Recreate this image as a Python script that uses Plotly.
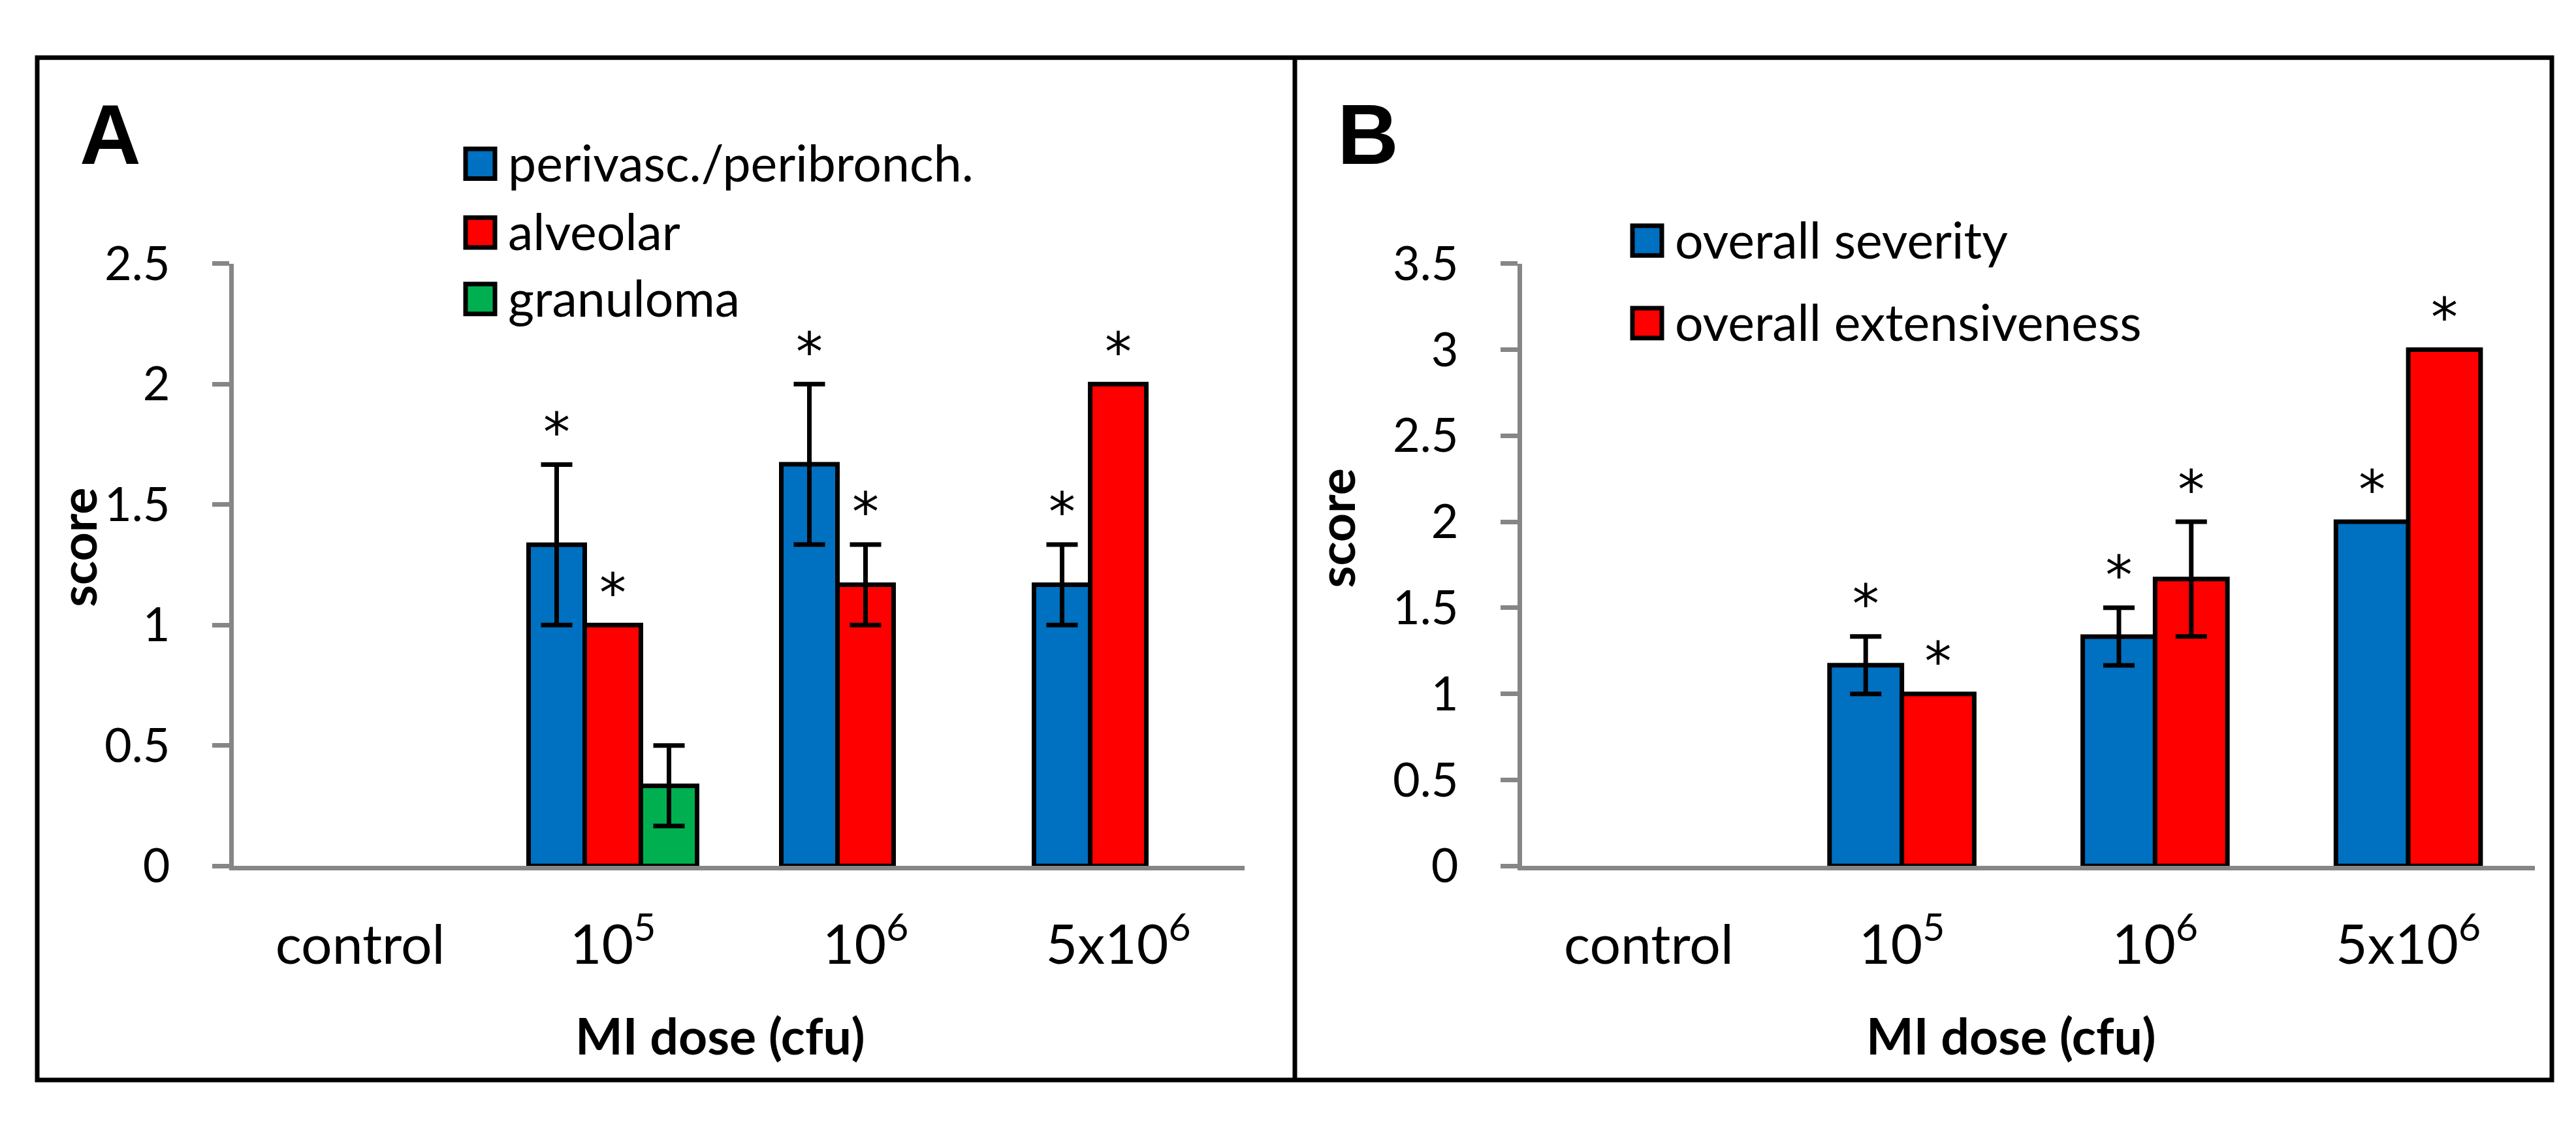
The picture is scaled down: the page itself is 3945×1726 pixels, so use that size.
import plotly.graph_objects as go

# ---------------- data ----------------
categories = ["control", "10<sup>5</sup>", "10<sup>6</sup>", "5x10<sup>6</sup>"]

a_names = ["perivasc./peribronch.", "alveolar", "granuloma"]
a_perivasc = [0, 1.333, 1.667, 1.167]
a_perivasc_err = [0, 0.333, 0.333, 0.167]
a_perivasc_sig = [False, True, True, True]
a_alveolar = [0, 1.0, 1.167, 2.0]
a_alveolar_err = [0, 0, 0.167, 0]
a_alveolar_sig = [False, True, True, True]
a_granuloma = [0, 0.333, 0, 0]
a_granuloma_err = [0, 0.167, 0, 0]
a_granuloma_sig = [False, False, False, False]

b_names = ["overall severity", "overall extensiveness"]
b_severity = [0, 1.167, 1.333, 2.0]
b_severity_err = [0, 0.167, 0.167, 0]
b_severity_sig = [False, True, True, True]
b_extens = [0, 1.0, 1.667, 3.0]
b_extens_err = [0, 0, 0.333, 0]
b_extens_sig = [False, True, True, True]

y_ticks_a = [0, 0.5, 1, 1.5, 2, 2.5]
y_ticks_b = [0, 0.5, 1, 1.5, 2, 2.5, 3, 3.5]

x_title = "MI dose (cfu)"
y_title = "score"

# ---------------- style ----------------
W, H = 3945, 1726
BLUE, RED, GREEN = "#0070C0", "#FF0000", "#00B050"
GRAY = "#868686"
FONT = "Lato"
FS = 77
GAP = 1.5  # gap width relative to bar width


def px(x):
    return x / W


def py(y):
    return 1 - y / H


fig = go.Figure()
annotations = []
shapes = []


def add_panel(xa, ya, series):
    n = len(series)
    w = 1.0 / (n + GAP)
    for j, (name, vals, errs, sig, color) in enumerate(series):
        off = -n * w / 2 + j * w
        xs = list(range(len(categories)))
        fig.add_trace(go.Bar(
            x=xs, y=vals, width=w, offset=off, name=name,
            marker=dict(color=color,
                        line=dict(color="black",
                                  width=[0 if v == 0 else 7 for v in vals])),
            xaxis=xa, yaxis=ya, showlegend=False, hoverinfo="skip"))
        ex = [i + off + w / 2 for i in xs if errs[i] > 0]
        ey = [vals[i] for i in xs if errs[i] > 0]
        ee = [errs[i] for i in xs if errs[i] > 0]
        if ex:
            fig.add_trace(go.Scatter(
                x=ex, y=ey, mode="markers",
                marker=dict(size=1, opacity=0),
                error_y=dict(type="data", array=ee, color="black",
                             thickness=7, width=24),
                xaxis=xa, yaxis=ya, showlegend=False, hoverinfo="skip"))
        sx = [i + off + w / 2 for i in xs if sig[i]]
        sy = [vals[i] + errs[i] for i in xs if sig[i]]
        if sx:
            fig.add_trace(go.Scatter(
                x=sx, y=sy, mode="text", text=["*"] * len(sx),
                textposition="top center",
                textfont=dict(family="DejaVu Sans", size=82, color="black"),
                xaxis=xa, yaxis=ya, showlegend=False, hoverinfo="skip"))


add_panel("x", "y", [
    (a_names[0], a_perivasc, a_perivasc_err, a_perivasc_sig, BLUE),
    (a_names[1], a_alveolar, a_alveolar_err, a_alveolar_sig, RED),
    (a_names[2], a_granuloma, a_granuloma_err, a_granuloma_sig, GREEN),
])
add_panel("x2", "y2", [
    (b_names[0], b_severity, b_severity_err, b_severity_sig, BLUE),
    (b_names[1], b_extens, b_extens_err, b_extens_sig, RED),
])

ydom = [py(1339), py(368)]
axis_common = dict(showgrid=False, zeroline=False, showline=True,
                   linecolor=GRAY, linewidth=7)
xcommon = dict(axis_common, range=[-0.5, 3.5], tickvals=list(range(len(categories))),
               ticktext=categories, ticks="", ticklabelstandoff=42,
               tickfont=dict(family=FONT, size=84, color="black"))
ycommon = dict(axis_common, ticks="outside", ticklen=26, tickwidth=7,
               tickcolor=GRAY, ticklabelstandoff=50, domain=ydom,
               tickfont=dict(family=FONT, size=72, color="black"))

fig.update_layout(
    width=W, height=H, margin=dict(l=0, r=0, t=0, b=0),
    paper_bgcolor="white", plot_bgcolor="white", barmode="overlay",
    xaxis=dict(xcommon, domain=[px(350), px(1898)], anchor="y"),
    yaxis=dict(ycommon, range=[0, 2.5], tickvals=y_ticks_a, anchor="x"),
    xaxis2=dict(xcommon, domain=[px(2323), px(3874)], anchor="y2"),
    yaxis2=dict(ycommon, range=[0, 3.5], tickvals=y_ticks_b, anchor="x2"),
)


def label(text, xc, yc, size=FS, family=FONT, angle=0, xanchor="center"):
    annotations.append(dict(x=px(xc), y=py(yc), xref="paper", yref="paper",
                            text=text, textangle=angle, showarrow=False,
                            xanchor=xanchor, yanchor="middle",
                            font=dict(family=family, size=size, color="black")))


# axis titles, panel letters
for xc, yc in [(110, 826), (2037, 795)]:
    label("<b>%s</b>" % y_title, xc, yc, angle=-90)
for xc in [1095, 3072]:
    label("<b>%s</b>" % x_title, xc, 1611)
for letter, xc in [("A", 161), ("B", 2087)]:
    label("<b>%s</b>" % letter, xc, 160, size=130, family="Liberation Sans")


# legends
def legend(items, x_sq, rows):
    for (name, color), yc in zip(items, rows):
        shapes.append(dict(type="rect", xref="paper", yref="paper",
                           x0=px(x_sq), x1=px(x_sq + 45), y0=py(yc + 24), y1=py(yc - 24),
                           line=dict(color="black", width=7), fillcolor=color))
        label(name, x_sq + 63, yc - 3, xanchor="left")


legend(list(zip(a_names, [BLUE, RED, GREEN])), 705, [207, 318, 425])
legend(list(zip(b_names, [BLUE, RED])), 2492, [331, 464])

# outer frame and divider
shapes.append(dict(type="rect", xref="paper", yref="paper", x0=px(49), x1=px(3900),
                   y0=py(1684), y1=py(36), line=dict(color="black", width=7)))
shapes.append(dict(type="line", xref="paper", yref="paper", x0=px(1975), x1=px(1975),
                   y0=py(1684), y1=py(36), line=dict(color="black", width=7)))

fig.update_layout(annotations=annotations, shapes=shapes)
fig.write_html("out.html")
